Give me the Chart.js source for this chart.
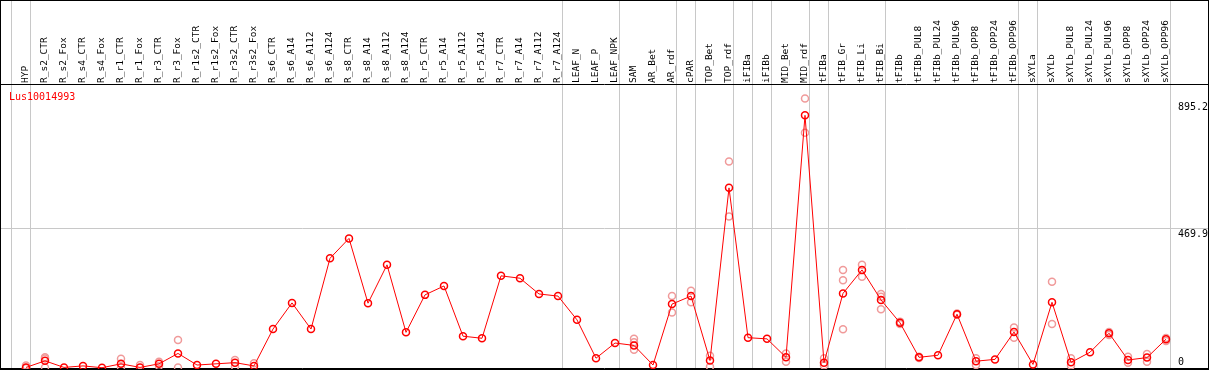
<!DOCTYPE html>
<html>
<head>
<meta charset="utf-8">
<title>Lus10014993</title>
<script src="https://cdn.jsdelivr.net/npm/chart.js@4.4.0/dist/chart.umd.min.js"></script>
<style>
    html, body { margin: 0; padding: 0; background: #fff; }
    #frame { position: relative; width: 1209px; height: 370px; box-sizing: border-box; border: 1px solid #000; }
    #chart { display: block; }
    #gene { position: absolute; left: 8px; top: 90px; color: #ff0000; font: 10px 'DejaVu Sans Mono', monospace; line-height: 12px; }
</style>
</head>
<body>
<div id="frame">
    <canvas id="chart" width="1207" height="368"></canvas>
    <div id="gene">Lus10014993</div>
</div>
<script>
// Sample names, in plot order
const categories = [
    'HYP', 'R_s2_CTR', 'R_s2_Fox', 'R_s4_CTR', 'R_s4_Fox', 'R_r1_CTR', 'R_r1_Fox', 'R_r3_CTR', 'R_r3_Fox',
    'R_r1s2_CTR', 'R_r1s2_Fox', 'R_r3s2_CTR', 'R_r3s2_Fox', 'R_s6_CTR', 'R_s6_A14', 'R_s6_A112', 'R_s6_A124',
    'R_s8_CTR', 'R_s8_A14', 'R_s8_A112', 'R_s8_A124', 'R_r5_CTR', 'R_r5_A14', 'R_r5_A112', 'R_r5_A124',
    'R_r7_CTR', 'R_r7_A14', 'R_r7_A112', 'R_r7_A124', 'LEAF_N', 'LEAF_P', 'LEAF_NPK', 'SAM', 'AR_Bet', 'AR_rdf',
    'cPAR', 'TOP_Bet', 'TOP_rdf', 'iFIBa', 'iFIBb', 'MID_Bet', 'MID_rdf', 'tFIBa', 'tFIB_Gr', 'tFIB_Li', 'tFIB_Bi',
    'tFIBb', 'tFIBb_PUL8', 'tFIBb_PUL24', 'tFIBb_PUL96', 'tFIBb_OPP8', 'tFIBb_OPP24', 'tFIBb_OPP96',
    'sXYLa', 'sXYLb', 'sXYLb_PUL8', 'sXYLb_PUL24', 'sXYLb_PUL96', 'sXYLb_OPP8', 'sXYLb_OPP24', 'sXYLb_OPP96'
];

// Mean expression per sample
const means = [
    2, 24, 2, 7, 1, 14, 2, 14, 49, 10, 14, 18, 7, 131, 219, 131, 369, 436, 218, 347, 120,
    246, 276, 107, 100, 310, 302, 249, 242, 162, 33, 84, 76, 10, 215, 242, 25, 606, 102, 98,
    36, 850, 18, 251, 330, 229, 152, 36, 43, 181, 23, 29, 121, 12, 221, 19, 53, 117, 27, 35, 97
];

// Individual replicates (null = hidden under the mean marker)
const repA = [
    8, 36, null, null, null, 31, 10, 21, 94, null, null, 27, 16, null, null, null, null, null, null, null, null,
    null, null, null, null, null, null, null, null, null, null, null, 98, null, 242, 260, 41, 695, null, null,
    49, 907, 33, 330, 347, 249, 156, 38, null, 183, 33, null, 136, null, 290, 33, null, 121, 38, 47, 101
];
const repB = [
    0, 2, null, null, null, 2, null, 7, 2, null, null, 4, null, null, null, null, null, null, null, null, null,
    null, null, null, null, null, null, null, null, null, null, null, 61, null, 187, 221, 4, 510, null, null,
    21, 791, 8, 130, 307, 198, 148, 34, null, 179, 10, null, 102, null, 148, 8, null, 111, 18, 21, 91
];
const repC = [
    null, 32, null, null, null, null, null, null, null, null, null, null, null, null, null, null, null, null, null, null, null,
    null, null, null, null, null, null, null, null, null, null, null, 87, null, null, null, null, null, null, null,
    null, null, null, 295, null, 240, null, null, null, null, null, null, null, null, null, null, null, null, null, null, null
];

// Group boundaries (vertical lines drawn after these sample numbers)
const groupEdges = [0, 1, 29, 32, 35, 36, 38, 39, 40, 42, 43, 46, 53, 54, 61];

// Value axis labels
const yTicks = [0, 469.9, 895.2];
const headerLine = 952.1;

const monoFont = { family: "'DejaVu Sans Mono', monospace", size: 10 };

// Rotated sample names in the header band, placed with the x scale
const headerLabels = {
    id: 'headerLabels',
    afterDraw(chart) {
        const ctx = chart.ctx;
        const xScale = chart.scales.x;
        ctx.save();
        ctx.font = "9.5px 'DejaVu Sans Mono', monospace";
        ctx.fillStyle = '#000';
        ctx.textAlign = 'left';
        ctx.textBaseline = 'middle';
        categories.forEach((name, i) => {
            ctx.save();
            ctx.translate(xScale.getPixelForValue(i + 1), 82);
            ctx.rotate(-Math.PI / 2);
            ctx.fillText(name, 0, 0);
            ctx.restore();
        });
        ctx.restore();
    }
};

// keep the plot filling the whole canvas
const noPad = s => {
    s.paddingTop = 0; s.paddingBottom = 0; s.paddingLeft = 0; s.paddingRight = 0;
    if (s.isHorizontal()) s.height = 0; else s.width = 0;
};

const toPoints = arr => arr.map((v, i) => ({ x: i + 1, y: v })).filter(p => p.y !== null);

new Chart(document.getElementById('chart'), {
    type: 'line',
    data: {
        datasets: [
            {
                label: 'mean',
                data: toPoints(means),
                borderColor: '#ff0000',
                borderWidth: 1,
                pointRadius: 3.5,
                pointBorderWidth: 1.5,
                pointBorderColor: '#ff0000',
                pointBackgroundColor: 'rgba(255,255,255,0)',
                tension: 0
            },
            {
                label: 'replicates',
                data: toPoints(repA).concat(toPoints(repB), toPoints(repC)),
                showLine: false,
                pointRadius: 3.5,
                pointBorderWidth: 1.5,
                pointBorderColor: '#f09a9a',
                pointBackgroundColor: 'rgba(255,255,255,0)'
            }
        ]
    },
    options: {
        responsive: false,
        animation: false,
        layout: { padding: 0, autoPadding: false },
        plugins: { legend: { display: false }, tooltip: { enabled: false } },
        scales: {
            x: {
                type: 'linear',
                bounds: 'data',
                min: -0.3158,
                max: 63.2105,
                afterBuildTicks: s => { s.ticks = groupEdges.map(v => ({ value: v + 0.25 })); },
                afterFit: noPad,
                grid: { color: '#c8c8c8', drawTicks: false },
                border: { display: false },
                ticks: { display: false, autoSkip: false }
            },
            y: {
                type: 'linear',
                position: 'right',
                bounds: 'data',
                min: -3.36,
                max: 1234.6,
                afterBuildTicks: s => { s.ticks = yTicks.concat([headerLine]).map(v => ({ value: v })); },
                afterFit: noPad,
                grid: {
                    drawTicks: false,
                    color: c => {
                        const v = c.tick ? c.tick.value : null;
                        if (v === 0 || v === headerLine) return '#000';
                        if (v === 469.9) return '#c8c8c8';
                        return 'rgba(0,0,0,0)';
                    }
                },
                border: { display: false },
                ticks: {
                    mirror: true,
                    crossAlign: 'far',
                    padding: 0,
                    autoSkip: false,
                    color: '#000',
                    font: monoFont,
                    callback: v => {
                        if (v === headerLine) return '';
                        if (v === 0) return ['0', ''];
                        return ['', v.toFixed(1)];
                    }
                }
            }
        }
    },
    plugins: [headerLabels]
});
</script>
</body>
</html>
